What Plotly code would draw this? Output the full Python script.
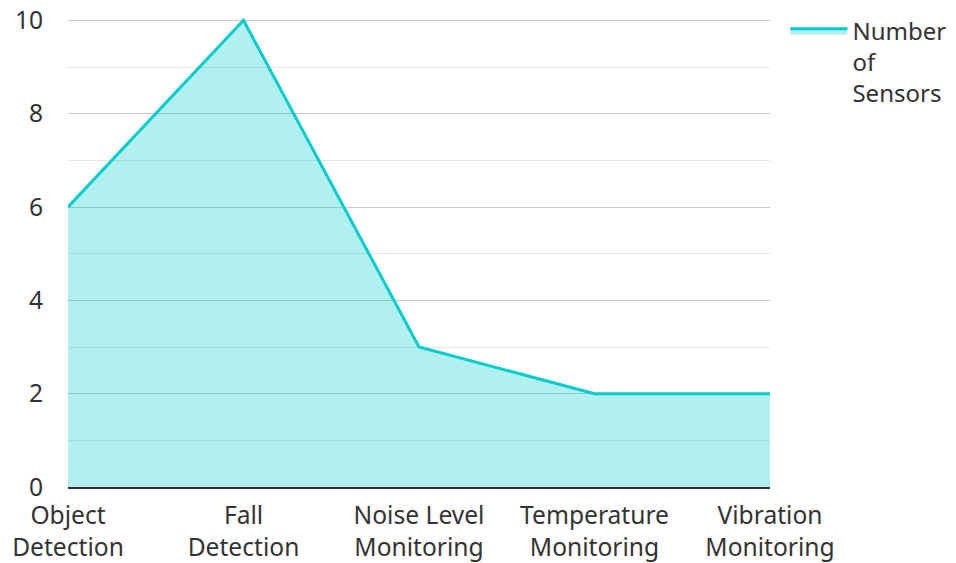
import plotly.graph_objects as go

categories = ["Object<br>Detection", "Fall<br>Detection", "Noise Level<br>Monitoring",
              "Temperature<br>Monitoring", "Vibration<br>Monitoring"]
sensor_counts = [6, 10, 3, 2, 2]
series_name = "Number<br>of<br>Sensors"

FS = 24.6

fig = go.Figure()
fig.add_trace(go.Scatter(
    x=list(range(len(categories))), y=sensor_counts, name=series_name,
    mode="lines", fill="tozeroy",
    line=dict(color="rgb(0,204,204)", width=3),
    fillcolor="rgba(0,204,204,0.3)",
    showlegend=True,
))

fig.update_layout(
    width=948, height=555,
    margin=dict(l=60, r=186, t=10, b=76, autoexpand=False),
    paper_bgcolor="white", plot_bgcolor="white",
    font=dict(family="Noto Sans, Open Sans, sans-serif", size=FS, color="#333333"),
    showlegend=True,
    legend=dict(x=1.022, y=1.02, xanchor="left", yanchor="top", valign="top",
                font=dict(size=24, color="#333333"), itemwidth=57,
                tracegroupgap=0),
    xaxis=dict(
        range=[0, 4], tickmode="array", tickvals=list(range(len(categories))),
        ticktext=categories, showgrid=False, zeroline=False,
        showline=True, linecolor="#333333", linewidth=2,
        ticks="outside", ticklen=5, tickcolor="rgba(0,0,0,0)",
        tickfont=dict(size=FS), automargin=False, ticklabeloverflow="allow",
    ),
    yaxis=dict(
        range=[0, 10.05], tickvals=[0, 2, 4, 6, 8, 10], showgrid=True,
        gridcolor="#c8c8c8", gridwidth=1,
        zeroline=False, showline=False,
        ticks="outside", ticklen=19, tickcolor="rgba(0,0,0,0)",
        tickfont=dict(size=FS), automargin=False, ticklabeloverflow="allow",
        minor=dict(tickvals=[1, 3, 5, 7, 9], showgrid=True, gridcolor="#e6e6e6", gridwidth=1),
    ),
)

fig.write_html("out.html")
